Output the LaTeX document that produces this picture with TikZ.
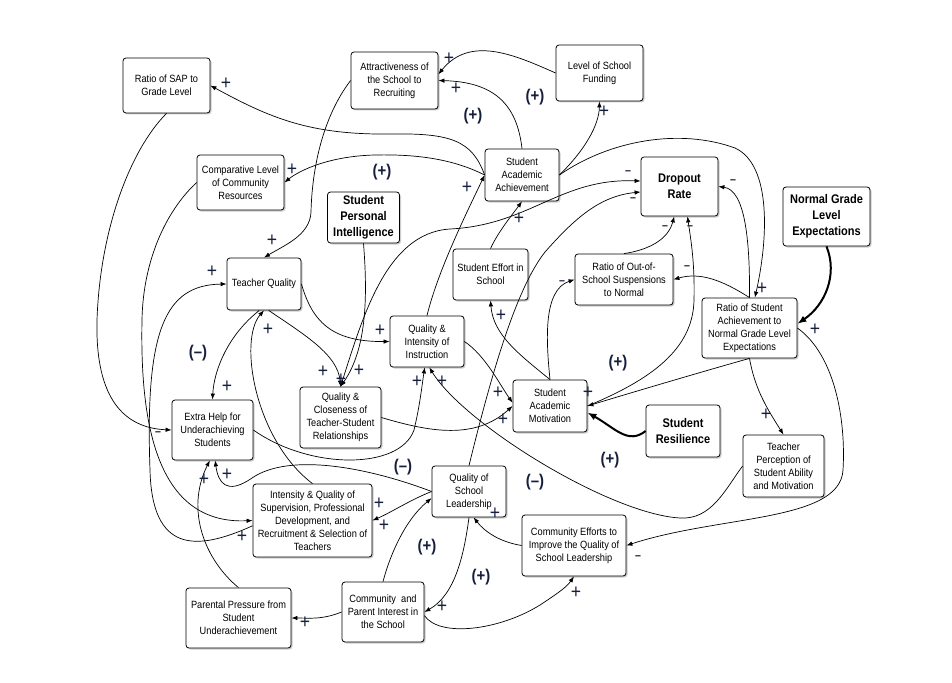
\documentclass[tikz,border=0pt]{standalone}
\usepackage{fontspec}
\setmainfont{Liberation Sans}[FakeStretch=0.88]
\usetikzlibrary{arrows.meta,shadows}
\definecolor{signc}{RGB}{22,30,62}

\begin{document}
\begin{tikzpicture}[x=1pt, y=-1pt, line width=0.7pt,
  >={Latex[length=6pt,width=4.5pt]},
  varbox/.style={draw, rounded corners=3pt, fill=white, line width=0.8pt,
    align=center, inner sep=1pt,
    drop shadow={shadow xshift=1.5pt, shadow yshift=-1.5pt, opacity=0.4},
    font=\fontsize{10.5}{13}\selectfont},
  keybox/.style={varbox, font=\fontsize{12.5}{16}\selectfont\bfseries},
  sgn/.style={inner sep=0pt, text=signc, font=\fontsize{20}{20}\selectfont},
  looplabel/.style={inner sep=0pt, text=signc, font=\fontsize{17}{17}\selectfont\bfseries},
  heavy/.style={line width=2pt, -{Latex[length=9pt,width=7pt]}}]

\useasboundingbox (0,0) rectangle (952,682);

% variables
\node[varbox, minimum width=87, minimum height=55] (sap) at (166.5,85.5) {Ratio of SAP to\\Grade Level};
\node[varbox, minimum width=87, minimum height=57] (attract) at (394.5,80.5) {Attractiveness of\\the School to\\Recruiting};
\node[varbox, minimum width=87, minimum height=56] (fund) at (599.5,73) {Level of School\\Funding};
\node[varbox, minimum width=87, minimum height=55] (comm) at (240.5,182.5) {Comparative Level\\of Community\\Resources};
\node[varbox, minimum width=74, minimum height=52] (saa) at (522,175) {Student\\Academic\\Achievement};
\node[keybox, minimum width=77, minimum height=59] (drop) at (679.5,186.5) {Dropout\\Rate};
\node[keybox, minimum width=87, minimum height=59] (ngle) at (826.5,216.5) {Normal Grade\\Level\\Expectations};
\node[keybox, minimum width=72, minimum height=51] (spi) at (363.5,217.5) {Student\\Personal\\Intelligence};
\node[varbox, minimum width=74, minimum height=52] (tq) at (264,284) {Teacher Quality};
\node[varbox, minimum width=75, minimum height=51] (effort) at (490.5,274.5) {Student Effort in\\School};
\node[varbox, minimum width=98, minimum height=51] (susp) at (624,279.5) {Ratio of Out-of-\\School Suspensions\\to Normal};
\node[varbox, minimum width=95, minimum height=60] (rsa) at (749.5,328) {Ratio of Student\\Achievement to\\Normal Grade Level\\Expectations};
\node[varbox, minimum width=74, minimum height=51] (qii) at (427,341.5) {Quality \&\\Intensity of\\Instruction};
\node[varbox, minimum width=81, minimum height=61] (qct) at (340.5,417.5) {Quality \&\\Closeness of\\Teacher-Student\\Relationships};
\node[varbox, minimum width=74, minimum height=52] (sam) at (550,406) {Student\\Academic\\Motivation};
\node[keybox, minimum width=74, minimum height=52] (sr) at (683,431) {Student\\Resilience};
\node[varbox, minimum width=81, minimum height=60] (extra) at (212.5,430) {Extra Help for\\Underachieving\\Students};
\node[varbox, minimum width=81, minimum height=62] (tps) at (783.5,466) {Teacher\\Perception of\\Student Ability\\and Motivation};
\node[varbox, minimum width=74, minimum height=51] (qsl) at (469,491.5) {Quality of\\School\\Leadership};
\node[varbox, minimum width=119, minimum height=73] (isq) at (312.5,520.5) {Intensity \& Quality of\\Supervision, Professional\\Development, and\\Recruitment \& Selection of\\Teachers};
\node[varbox, minimum width=104, minimum height=61] (cei) at (574,545.5) {Community Efforts to\\Improve the Quality of\\School Leadership};
\node[varbox, minimum width=82, minimum height=60] (cpi) at (383,612) {Community\ \ and\\Parent Interest in\\the School};
\node[varbox, minimum width=105, minimum height=60] (pp) at (238.5,618) {Parental Pressure from\\Student\\Underachievement};

% links
\draw[->] (saa.west) .. controls (472,140) and (450,133) .. (390,134) .. controls (310,135) and (270,118) .. (sap.east);
\draw[->] (saa.west) .. controls (455,160) and (420,154) .. (375,155) .. controls (330,156) and (300,170) .. (comm.east);
\draw[->] (saa.north) .. controls (517,105) and (495,82) .. (attract.east);
\draw[->] (fund.west) .. controls (515,55) and (470,35) .. (attract.8);
\draw[->] (saa.east) .. controls (585,150) and (599,125) .. (fund.south);
\draw[->] (saa.east) .. controls (610,140) and (680,128) .. (735,148) .. controls (772,165) and (768,240) .. (rsa.80);
\draw[->] (rsa.north) .. controls (750,240) and (745,190) .. (drop.east);
\draw[->] (rsa.north) .. controls (722,280) and (700,272) .. (susp.east);
\draw[heavy] (ngle.south) .. controls (838,275) and (825,305) .. (rsa.5);
\draw[->] (rsa.south) .. controls (755,390) and (768,410) .. (tps.north);
\draw[->] (rsa.east) .. controls (835,355) and (846,420) .. (843,470) .. controls (840,522) and (720,515) .. (cei.east);
\draw[->] (rsa.south) .. controls (715,368) and (640,390) .. (sam.east);
\draw[->] (sam.east) .. controls (650,380) and (693,350) .. (694,300) .. controls (695,260) and (690,235) .. (drop.-75);
\draw[->] (susp.north) .. controls (648,250) and (668,240) .. (drop.-100);
\draw[heavy] (sr.west) .. controls (628,445) and (615,428) .. (sam.-10);
\draw[->] (sam.north) .. controls (546,340) and (543,290) .. (susp.west);
\draw[->] (sam.north) .. controls (520,355) and (493,335) .. (effort.south);
\draw[->] (effort.north) .. controls (498,232) and (512,215) .. (saa.south);
\draw[->] (qii.north) .. controls (438,270) and (468,210) .. (saa.west);
\draw[->] (tq.east) .. controls (312,320) and (330,342) .. (qii.west);
\draw[->] (tq.-80) .. controls (305,335) and (338,355) .. (qct.north);
\draw[->] (tq.-100) .. controls (228,335) and (214,370) .. (extra.north);
\draw[->] (isq.north) .. controls (255,440) and (238,340) .. (tq.south);
\draw[->] (spi.south) .. controls (368,300) and (366,350) .. (qct.north);
\draw[->] (qct.north) .. controls (362,320) and (385,233) .. (450,229) .. controls (530,225) and (560,178) .. (drop.172);
\draw[->] (qsl.north) .. controls (490,380) and (515,290) .. (545,252) .. controls (575,218) and (600,196) .. (drop.-172);
\draw[->] (qct.east) .. controls (430,432) and (475,440) .. (sam.west);
\draw[->] (qii.east) .. controls (485,355) and (500,385) .. (sam.175);
\draw[->] (extra.east) .. controls (310,470) and (400,470) .. (414,430) .. controls (420,405) and (422,385) .. (qii.-95);
\draw[->] (tps.west) .. controls (726,488) and (712,520) .. (680,518) .. controls (610,514) and (465,425) .. (qii.-85);
\draw[->] (qsl.west) .. controls (370,468) and (290,452) .. (252,478) .. controls (226,496) and (218,482) .. (extra.-85);
\draw[->] (pp.north) .. controls (205,560) and (185,510) .. (extra.-95);
\draw[->] (qsl.west) .. controls (410,500) and (392,512) .. (isq.east);
\draw[->] (cpi.north) .. controls (390,555) and (405,520) .. (qsl.-170);
\draw[->] (qsl.south) .. controls (464,555) and (455,595) .. (cpi.east);
\draw[->] (cpi.-5) .. controls (440,638) and (500,630) .. (540,605) .. controls (555,595) and (566,588) .. (cei.south);
\draw[->] (cei.west) .. controls (500,542) and (485,532) .. (qsl.-80);
\draw[->] (cpi.west) .. controls (322,620) and (308,618) .. (pp.east);
\draw[->] (comm.west) .. controls (165,212) and (143,262) .. (142,320) .. controls (140,420) and (155,525) .. (isq.west);
\draw[->] (isq.-175) .. controls (195,552) and (152,552) .. (150,470) .. controls (145,330) and (165,285) .. (tq.west);
\draw[->] (sap.south) .. controls (130,150) and (100,230) .. (97,320) .. controls (95,400) and (125,428) .. (extra.west);
\draw[->] (attract.west) .. controls (322,118) and (312,170) .. (311,212) .. controls (310,235) and (285,245) .. (tq.north);

% link signs
\foreach \x/\y [count=\i] in {226/84, 449/59, 456/89, 604/112, 292/170, 467/188, 519/219,
    272/241, 212/272, 268/330, 380/331, 762/289, 815/330, 501/316, 323/372, 341/380,
    359/371, 417/382, 442/382, 498/393, 503/420, 588/393, 227/387, 227/475, 204/480,
    766/415, 379/504, 384/526, 242/537, 495/514, 576/593, 442/607, 305/623}
  \node[sgn] (plus\i) at (\x,\y) {+};
\foreach \x/\y [count=\i] in {628/173, 633/200, 733/182, 665/228, 690/228, 687/268,
    562/283, 158/434, 638/558}
  \node[sgn] (minus\i) at (\x,\y) {\fontsize{12}{12}\selectfont\bfseries –};

% loop polarities
\foreach \x/\y [count=\i] in {535/97, 473/116, 382/172, 618/363, 610/460, 427/547, 481/577}
  \node[looplabel] (rloop\i) at (\x,\y) {(+)};
\foreach \x/\y [count=\i] in {198/353, 403/467, 535/482}
  \node[looplabel] (bloop\i) at (\x,\y) {(–)};

\end{tikzpicture}
\end{document}
